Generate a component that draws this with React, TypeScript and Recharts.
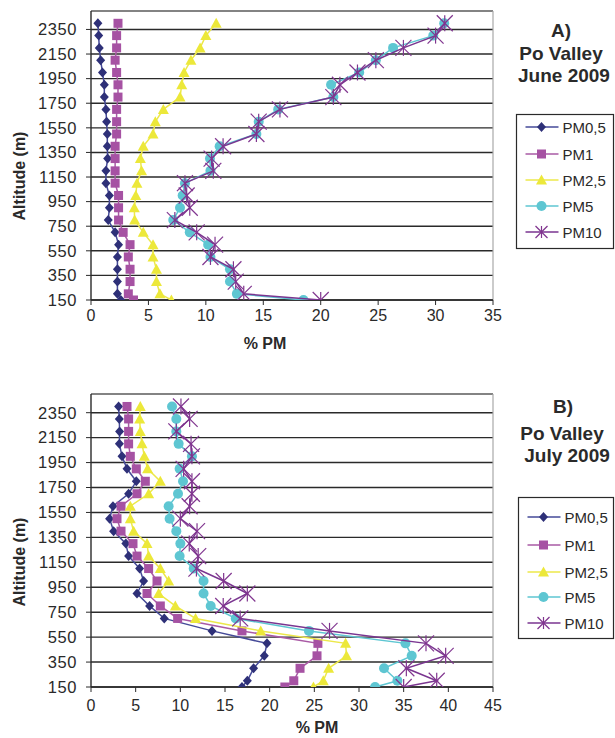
import React from 'react';
import { ScatterChart, Scatter, XAxis, YAxis, CartesianGrid, ReferenceLine } from 'recharts';

// altitudes of the profile points (m)
const altitudes = [150, 200, 300, 400, 500, 600, 700, 800, 900, 1000, 1100, 1200, 1300, 1400, 1500, 1600, 1700, 1800, 1900, 2000, 2100, 2200, 2300, 2400];
const altTicks = [150, 350, 550, 750, 950, 1150, 1350, 1550, 1750, 1950, 2150, 2350];
const xTicksJune = [0, 5, 10, 15, 20, 25, 30, 35];
const xTicksJuly = [0, 5, 10, 15, 20, 25, 30, 35, 40, 45];
const seriesNames = ['PM0,5', 'PM1', 'PM2,5', 'PM5', 'PM10'];

// A) June 2009, % PM
const junePm05 = [2.6, 2.3, 2.3, 2.3, 2.3, 2.4, 2.1, 1.5, 1.6, 1.6, 1.3, 1.3, 1.45, 1.42, 1.42, 1.36, 1.3, 1.16, 1.16, 1.0, 0.84, 0.72, 0.67, 0.6];
const junePm1 = [3.7, 3.25, 3.4, 3.4, 3.25, 3.4, 2.8, 2.4, 2.4, 2.4, 2.1, 2.1, 2.1, 2.1, 2.23, 2.23, 2.23, 2.35, 2.35, 2.23, 2.1, 2.23, 2.23, 2.35];
const junePm25 = [7.0, 6.0, 5.7, 5.7, 5.4, 5.4, 4.55, 3.8, 3.77, 3.9, 4.0, 4.4, 4.3, 4.55, 5.4, 5.6, 6.3, 7.75, 7.9, 8.1, 8.7, 9.5, 10.0, 10.9];
const junePm5 = [18.5, 12.7, 12.1, 12.1, 10.4, 10.2, 8.6, 7.16, 7.75, 7.98, 8.18, 10.4, 10.36, 11.2, 14.4, 14.6, 16.3, 21.1, 20.9, 23.35, 24.8, 26.3, 29.8, 30.75];
const junePm10 = [20.0, 13.3, 12.6, 12.4, 10.4, 10.8, 9.2, 7.3, 8.6, 8.33, 8.18, 10.65, 10.5, 11.5, 14.4, 14.6, 16.45, 21.1, 21.67, 23.2, 24.8, 27.2, 30.0, 30.8];

// B) July 2009, % PM
const julyPm05 = [16.9, 17.5, 18.2, 19.4, 19.7, 13.55, 8.2, 6.56, 5.15, 5.89, 5.44, 4.21, 3.9, 2.53, 2.08, 2.46, 4.21, 5.07, 4.03, 3.47, 3.18, 3.2, 3.17, 3.09];
const julyPm1 = [21.7, 22.7, 23.4, 25.3, 25.4, 16.9, 9.7, 7.76, 6.27, 7.39, 6.45, 5.15, 4.7, 3.36, 2.91, 3.36, 5.15, 6.08, 5.07, 4.4, 4.21, 4.21, 4.21, 4.03];
const julyPm25 = [24.9, 26.0, 26.6, 28.6, 28.5, 19.0, 11.7, 9.44, 7.57, 8.69, 7.76, 6.45, 6.27, 4.77, 4.4, 4.4, 6.45, 7.76, 6.34, 5.97, 5.71, 5.52, 5.45, 5.52];
const julyPm5 = [31.8, 34.3, 32.8, 35.9, 35.2, 24.4, 16.2, 13.4, 12.6, 12.6, 11.5, 9.92, 10.0, 9.55, 8.8, 8.69, 9.74, 10.3, 9.92, 11.3, 9.81, 9.55, 9.55, 9.07];
const julyPm10 = [35.0, 38.7, 35.3, 39.7, 37.5, 26.7, 16.7, 14.8, 17.5, 14.85, 11.8, 12.0, 11.0, 11.87, 10.0, 11.04, 11.3, 11.3, 10.37, 11.3, 11.2, 9.55, 11.04, 10.07];

const FONT = '"Liberation Sans", Arial, sans-serif';
const INK = '#2a2a2a';

const Diamond = ({ cx, cy, fill }: any) => (
  <path d={`M${cx},${cy - 5} L${cx + 4.5},${cy} L${cx},${cy + 5} L${cx - 4.5},${cy} Z`} fill={fill} />
);
const Square = ({ cx, cy, fill }: any) => <rect x={cx - 4.5} y={cy - 4.5} width={9} height={9} fill={fill} />;
const Triangle = ({ cx, cy, fill }: any) => (
  <path d={`M${cx},${cy - 5.5} L${cx + 5.5},${cy + 4.5} L${cx - 5.5},${cy + 4.5} Z`} fill={fill} />
);
const Dot = ({ cx, cy, fill }: any) => <circle cx={cx} cy={cy} r={5} fill={fill} />;
const Asterisk = ({ cx, cy, fill, s = 8 }: any) => (
  <g stroke={fill} strokeWidth={1.2}>
    <line x1={cx - s} y1={cy - s} x2={cx + s} y2={cy + s} />
    <line x1={cx + s} y1={cy - s} x2={cx - s} y2={cy + s} />
    <line x1={cx} y1={cy - s} x2={cx} y2={cy + s} />
  </g>
);

const styles = [
  { marker: '#2e3078', line: '#454a98', Shape: Diamond },
  { marker: '#a652a3', line: '#a95aa5', Shape: Square },
  { marker: '#ece83a', line: '#ece84a', Shape: Triangle },
  { marker: '#5ec6d2', line: '#5ec6d2', Shape: Dot },
  { marker: '#80358f', line: '#7a3590', Shape: Asterisk },
];

const toPoints = (vals: number[]) => altitudes.map((alt, i) => ({ alt, v: vals[i] }));

function Panel({ top, height, marginTop, marginBottom, series, xTicks, xTickMargin }: any) {
  const xMax = xTicks[xTicks.length - 1];
  const tickStyle = { fill: INK, fontSize: 16, fontFamily: FONT };
  return (
    <div style={{ position: 'absolute', left: 0, top }}>
      <ScatterChart width={615} height={height} margin={{ top: marginTop, right: 122, bottom: marginBottom, left: 31 }}>
        <CartesianGrid vertical={false} stroke={INK} strokeWidth={1.4} />
        <XAxis
          type="number"
          dataKey="v"
          domain={[0, xMax]}
          ticks={xTicks}
          interval={0}
          height={30}
          tickSize={5}
          tickMargin={xTickMargin}
          axisLine={{ stroke: INK, strokeWidth: 1.4 }}
          tickLine={{ stroke: INK }}
          tick={tickStyle}
        />
        <YAxis
          type="number"
          dataKey="alt"
          domain={[150, 2500]}
          ticks={altTicks}
          interval={0}
          allowDataOverflow
          width={60}
          tickSize={5}
          tickMargin={9}
          axisLine={{ stroke: INK, strokeWidth: 1.4 }}
          tickLine={{ stroke: INK }}
          tick={{ ...tickStyle, fontSize: 16.5, letterSpacing: 0.6 }}
        />
        <ReferenceLine y={2500} stroke="#a8a8a8" strokeWidth={1.2} />
        <ReferenceLine x={xMax} stroke="#a8a8a8" strokeWidth={1.2} />
        {series.map((vals: number[], i: number) => {
          const st = styles[i];
          const Shape = st.Shape;
          return (
            <Scatter
              key={seriesNames[i]}
              name={seriesNames[i]}
              data={toPoints(vals)}
              fill={st.marker}
              line={{ stroke: st.line, strokeWidth: 1.5 }}
              lineType="joint"
              isAnimationActive={false}
              shape={(p: any) => <Shape cx={p.cx} cy={p.cy} fill={st.marker} />}
            />
          );
        })}
      </ScatterChart>
    </div>
  );
}

function LegendBox({ x, y, w, h, rows }: any) {
  return (
    <g>
      <rect x={x} y={y} width={w} height={h} fill="#fff" stroke={INK} strokeWidth={1.2} />
      {seriesNames.map((name, i) => {
        const st = styles[i];
        const Shape = st.Shape;
        const cy = rows[i];
        return (
          <g key={name}>
            <line x1={x + 9} x2={x + 42} y1={cy} y2={cy} stroke={st.line} strokeWidth={1.5} />
            <Shape cx={x + 25} cy={cy} fill={st.marker} s={6} />
            <text x={x + 46} y={cy + 5.5} fontSize={15} fontFamily={FONT} fill={INK}>{name}</text>
          </g>
        );
      })}
    </g>
  );
}

export default function App() {
  const bold = { fontFamily: FONT, fontWeight: 700, fill: INK };
  return (
    <div style={{ position: 'absolute', left: 0, top: 0, width: 615, height: 738, background: '#fff', fontFamily: FONT }}>
      <Panel
        top={0}
        height={360}
        marginTop={11}
        marginBottom={30}
        series={[junePm05, junePm1, junePm25, junePm5, junePm10]}
        xTicks={xTicksJune}
        xTickMargin={5}
      />
      <Panel
        top={380}
        height={358}
        marginTop={14}
        marginBottom={21}
        series={[julyPm05, julyPm1, julyPm25, julyPm5, julyPm10]}
        xTicks={xTicksJuly}
        xTickMargin={8}
      />
      <svg width={615} height={738} style={{ position: 'absolute', left: 0, top: 0, pointerEvents: 'none' }}>
        <text transform="translate(25,176) rotate(-90)" textAnchor="middle" fontSize={16} {...bold}>Altitude (m)</text>
        <text transform="translate(25,562) rotate(-90)" textAnchor="middle" fontSize={16} {...bold}>Altitude (m)</text>
        <text x={265} y={349} textAnchor="middle" fontSize={16} {...bold}>% PM</text>
        <text x={317} y={733} textAnchor="middle" fontSize={16} {...bold}>% PM</text>

        <text x={561} y={37} textAnchor="middle" fontSize={19} {...bold}>A)</text>
        <text x={561} y={60} textAnchor="middle" fontSize={19} {...bold}>Po Valley</text>
        <text x={564} y={82} textAnchor="middle" fontSize={19} {...bold}>June 2009</text>

        <text x={563} y={413} textAnchor="middle" fontSize={19} {...bold}>B)</text>
        <text x={562} y={440} textAnchor="middle" fontSize={19} {...bold}>Po Valley</text>
        <text x={567} y={462} textAnchor="middle" fontSize={19} {...bold}>July 2009</text>

        <LegendBox x={516.5} y={114.5} w={97} h={134} rows={[127, 154, 180, 206, 232]} />
        <LegendBox x={518.5} y={497.5} w={95} h={141} rows={[517, 545, 572, 597, 623]} />
      </svg>
    </div>
  );
}
